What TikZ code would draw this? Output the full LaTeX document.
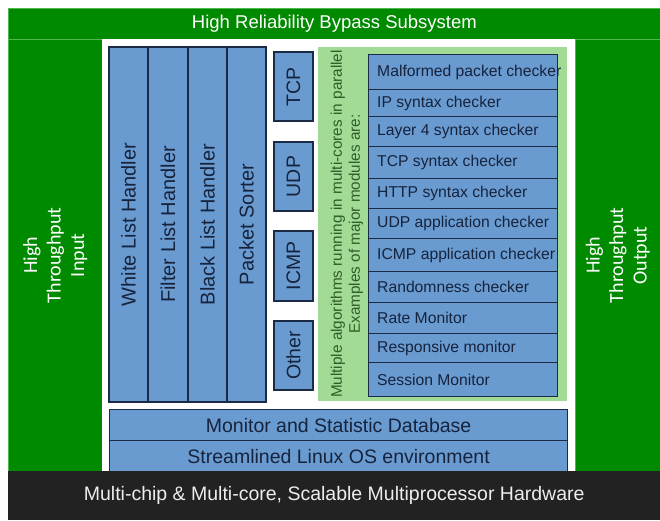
\documentclass[tikz,border=0pt]{standalone}
\usepackage{fontspec}
\setmainfont{Liberation Sans}
\newfontfamily\sidefont{Carlito}
\definecolor{bandgreen}{HTML}{008A00}
\definecolor{bandedge}{HTML}{4DB84D}
\definecolor{panelgreen}{HTML}{A2DB96}
\definecolor{paneltext}{HTML}{2F5D27}
\definecolor{modblue}{HTML}{6A9BD0}
\definecolor{modedge}{HTML}{1C2B45}
\definecolor{modtext}{HTML}{16233D}
\definecolor{hwblack}{HTML}{222222}
\begin{document}
\begin{tikzpicture}[x=1pt,y=-1pt,
  band/.style={fill=bandgreen, draw=bandedge, line width=0.8pt, inner sep=0pt, anchor=north west},
  modbox/.style={fill=modblue, draw=modedge, line width=1.2pt, inner sep=0pt, text=modtext},
  vmod/.style={modbox, rotate=90, font=\fontsize{20}{22}\selectfont},
  smod/.style={modbox, rotate=90, font=\fontsize{19.5}{22}\selectfont},
  rowbox/.style={modbox, anchor=north west, minimum width=189pt},
  rowtext/.style={anchor=west, inner sep=0pt, text=modtext, font=\fontsize{15.7}{17}\selectfont},
  wide/.style={modbox, anchor=north west, minimum width=458pt, minimum height=31pt, font=\fontsize{19.5}{22}\selectfont}
]
\useasboundingbox (0,0) rectangle (660,520);
\fill[white] (0,0) rectangle (660,520);

% outer green frame: title band and the two side columns
\node[band, minimum width=652pt, minimum height=31pt, text=white,
      font=\fontsize{18.5}{20}\selectfont] (title) at (8,8) {High Reliability Bypass Subsystem};
\node[band, minimum width=94pt, minimum height=432pt] (inband) at (8,39) {};
\node[band, minimum width=85pt, minimum height=432pt] (outband) at (575,39) {};
\node[rotate=90, align=center, text=white, font=\sidefont\fontsize{20}{23.5}\selectfont]
  (inlabel) at (inband.center) {High\\Throughput\\Input};
\node[rotate=90, align=center, text=white, font=\sidefont\fontsize{20}{23.5}\selectfont]
  (outlabel) at (outband.center) {High\\Throughput\\Output};

% white core area
\node[fill=white, inner sep=0pt, anchor=north west, minimum width=473pt, minimum height=432pt] (core) at (102,39) {};

% list handlers and sorter
\node[vmod, minimum width=355pt, minimum height=39pt] (white) at (128.5,224.5) {White List Handler};
\node[vmod, minimum width=355pt, minimum height=40pt] (filter) at (168,224.5) {Filter List Handler};
\node[vmod, minimum width=355pt, minimum height=39pt] (black) at (207.5,224.5) {Black List Handler};
\node[vmod, minimum width=355pt, minimum height=39pt] (sorter) at (246.5,224.5) {Packet Sorter};

% protocol queues
\node[smod, minimum width=69pt, minimum height=39pt] (tcp) at (293.5,86.5) {TCP};
\node[smod, minimum width=69pt, minimum height=39pt] (udp) at (293.5,176.5) {UDP};
\node[smod, minimum width=70pt, minimum height=39pt] (icmp) at (293.5,266) {ICMP};
\node[smod, minimum width=69pt, minimum height=39pt] (other) at (293.5,355.5) {Other};

% parallel analysis panel
\node[fill=panelgreen, inner sep=0pt, anchor=north west, minimum width=249pt, minimum height=354pt] (panel) at (318,47) {};
\node[rotate=90, align=center, text=paneltext, inner sep=0pt, font=\fontsize{15.3}{18}\selectfont]
  (panellabel) at (347,224) {Multiple algorithms running in multi-cores in parallel\\Examples of major modules are:};

% checker modules
\node[rowbox, minimum height=35pt] (r1) at (368,54) {};
\node[rowbox, minimum height=27pt] (r2) at (368,89) {};
\node[rowbox, minimum height=30pt] (r3) at (368,116) {};
\node[rowbox, minimum height=32pt] (r4) at (368,146) {};
\node[rowbox, minimum height=30pt] (r5) at (368,178) {};
\node[rowbox, minimum height=30pt] (r6) at (368,208) {};
\node[rowbox, minimum height=33pt] (r7) at (368,238) {};
\node[rowbox, minimum height=31pt] (r8) at (368,271) {};
\node[rowbox, minimum height=31pt] (r9) at (368,302) {};
\node[rowbox, minimum height=29pt] (r10) at (368,333) {};
\node[rowbox, minimum height=34pt] (r11) at (368,362) {};
\node[rowtext] (t1) at ([xshift=9pt]r1.west) {Malformed packet checker};
\node[rowtext] (t2) at ([xshift=9pt]r2.west) {IP syntax checker};
\node[rowtext] (t3) at ([xshift=9pt]r3.west) {Layer 4 syntax checker};
\node[rowtext] (t4) at ([xshift=9pt]r4.west) {TCP syntax checker};
\node[rowtext] (t5) at ([xshift=9pt]r5.west) {HTTP syntax checker};
\node[rowtext] (t6) at ([xshift=9pt]r6.west) {UDP application checker};
\node[rowtext] (t7) at ([xshift=9pt]r7.west) {ICMP application checker};
\node[rowtext] (t8) at ([xshift=9pt]r8.west) {Randomness checker};
\node[rowtext] (t9) at ([xshift=9pt]r9.west) {Rate Monitor};
\node[rowtext] (t10) at ([xshift=9pt]r10.west) {Responsive monitor};
\node[rowtext] (t11) at ([xshift=9pt]r11.west) {Session Monitor};

% shared services
\node[wide] (db) at (109,409) {Monitor and Statistic Database};
\node[wide] (os) at (109,440) {Streamlined Linux OS environment};

% hardware base
\node[fill=hwblack, inner sep=0pt, anchor=north west, minimum width=652pt, minimum height=49pt,
      text=white!93!black, font=\fontsize{19.5}{22}\selectfont] (hw) at (8,471)
  {Multi-chip \& Multi-core, Scalable Multiprocessor Hardware};
\end{tikzpicture}
\end{document}
